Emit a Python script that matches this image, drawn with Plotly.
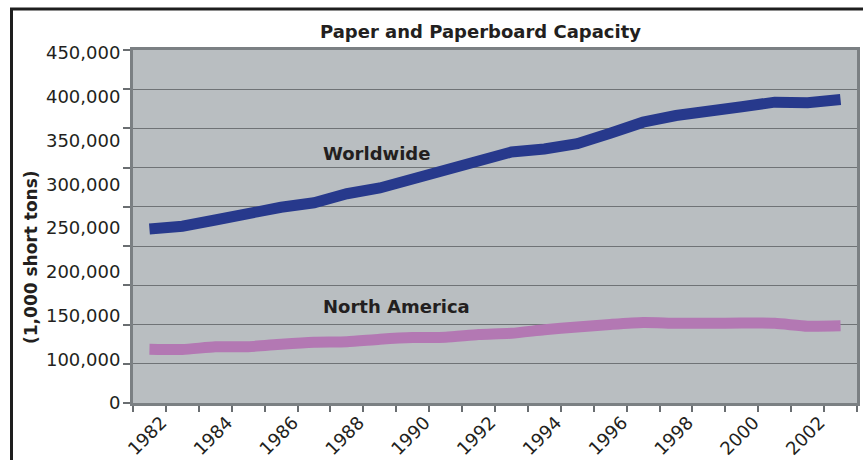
import plotly.graph_objects as go

# Paper and paperboard capacity, thousands of short tons
years = list(range(1982, 2004))
worldwide = [221800, 225300, 233300, 242200, 249500, 255300, 266800, 274100,
             285600, 297000, 308500, 320000, 323800, 330600, 343800, 358000,
             366500, 373500, 377700, 383500, 382700, 386900]
north_america = [68600, 68200, 71600, 71800, 75000, 77500, 78100, 81300,
                 83500, 83900, 87300, 88900, 93400, 96900, 100100, 102600,
                 101600, 101600, 102000, 101600, 97900, 98400]

year_labels = [str(y) for y in years[::2]]
value_labels = ["0", "100,000", "150,000", "200,000", "250,000",
                "300,000", "350,000", "400,000", "450,000"]

FONT = "DejaVu Sans"
TEXT = "#231f20"
FRAME = "#7b8083"
GRID = "#6f7376"

fig = go.Figure()
fig.add_trace(go.Scatter(x=years, y=worldwide, mode="lines", name="Worldwide",
                         line=dict(color="#27398c", width=11),
                         showlegend=False))
fig.add_trace(go.Scatter(x=years, y=north_america, mode="lines",
                         name="North America",
                         line=dict(color="#b378b3", width=11, shape="spline",
                                   smoothing=0.6),
                         showlegend=False))
# empty trace so the label axes are laid out
fig.add_trace(go.Scatter(x=[None], y=[None], xaxis="x2", yaxis="y2",
                         showlegend=False, hoverinfo="skip"))

boundaries = [y - 0.5 for y in years] + [years[-1] + 0.5]
xr = [years[0] - 0.5, years[-1] + 0.5]

fig.update_layout(
    width=863, height=460,
    margin=dict(l=133, r=6, t=50, b=57, autoexpand=False),
    paper_bgcolor="white",
    plot_bgcolor="#b9bec1",
    font=dict(family=FONT, size=18, color=TEXT),
    xaxis=dict(range=xr, tickmode="array", tickvals=boundaries,
               showticklabels=False, ticks="outside", ticklen=6,
               tickcolor="#6a6e71", tickwidth=1.5, automargin=False,
               showgrid=False, zeroline=False,
               showline=True, linewidth=3, linecolor=FRAME, mirror=True),
    yaxis=dict(range=[0, 450000], tickmode="linear", tick0=0, dtick=50000,
               showticklabels=False, ticks="outside", ticklen=7,
               tickcolor="#6a6e71", tickwidth=1.5, automargin=False,
               showgrid=True, gridcolor=GRID, gridwidth=1.2,
               zeroline=False,
               showline=True, linewidth=3, linecolor=FRAME, mirror=True),
    xaxis2=dict(overlaying="x", anchor="y", side="bottom", range=xr,
                tickmode="array", tickvals=years[::2], ticktext=year_labels,
                tickangle=-45, ticks="outside", ticklen=1,
                tickcolor="rgba(0,0,0,0)", automargin=False,
                ticklabelshift=12,
                tickfont=dict(family=FONT, size=18, color=TEXT),
                showgrid=False, zeroline=False, showline=False),
    yaxis2=dict(overlaying="y", anchor="x", side="left", range=[0, 8.07],
                tickmode="array", tickvals=list(range(len(value_labels))),
                ticktext=value_labels, ticks="outside", ticklen=8,
                tickcolor="rgba(0,0,0,0)", automargin=False,
                tickfont=dict(family=FONT, size=18, color=TEXT),
                showgrid=False, zeroline=False, showline=False),
)

fig.add_annotation(text="<b>Paper and Paperboard Capacity</b>",
                   xref="paper", yref="paper", x=(480 - 133) / 724,
                   y=1 + (50 - 32) / 353, xanchor="center", yanchor="middle",
                   showarrow=False, font=dict(family=FONT, size=18, color=TEXT))
fig.add_annotation(text="<b>(1,000 short tons)</b>", textangle=-90,
                   xref="paper", yref="paper", x=(31 - 133) / 724,
                   y=(403 - 257) / 353, xanchor="center", yanchor="middle",
                   showarrow=False, font=dict(family=FONT, size=17, color=TEXT))
fig.add_annotation(text="<b>Worldwide</b>", x=1987.21, y=318700,
                   xanchor="left", yanchor="middle", showarrow=False,
                   font=dict(family=FONT, size=18, color=TEXT))
fig.add_annotation(text="<b>North America</b>", x=1987.21, y=122400,
                   xanchor="left", yanchor="middle", showarrow=False,
                   font=dict(family=FONT, size=18, color=TEXT))

# outer frame running off the right and bottom edges
fig.add_shape(type="rect", xref="paper", yref="paper",
              x0=(11.5 - 133) / 724, x1=(875 - 133) / 724,
              y0=(403 - 475) / 353, y1=(403 - 9) / 353,
              line=dict(color="#1e1e1e", width=3), layer="above")

fig.write_html("out.html")
